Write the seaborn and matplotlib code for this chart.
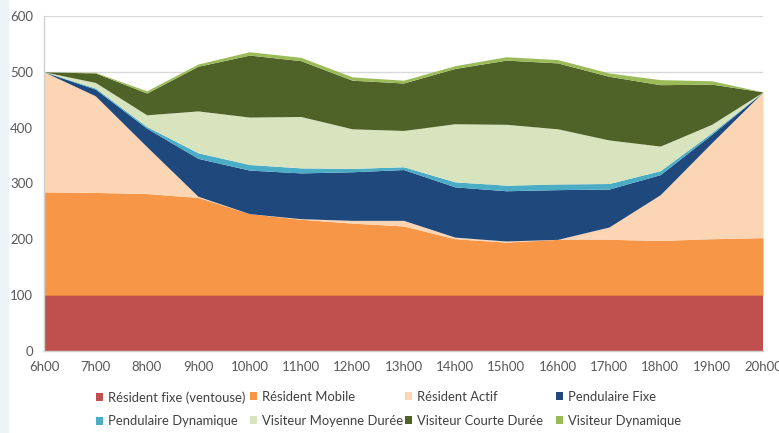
import matplotlib
matplotlib.use("Agg")
import matplotlib.pyplot as plt
from matplotlib.patches import Patch, Rectangle
import pandas as pd
import seaborn as sns

# ---- data ----
hours = [6, 7, 8, 9, 10, 11, 12, 13, 14, 15, 16, 17, 18, 19, 20]
hour_labels = ["6h00", "7h00", "8h00", "9h00", "10h00", "11h00", "12h00", "13h00",
               "14h00", "15h00", "16h00", "17h00", "18h00", "19h00", "20h00"]
y_ticks = [0, 100, 200, 300, 400, 500, 600]

series_names = ["Résident fixe (ventouse)", "Résident Mobile", "Résident Actif",
                "Pendulaire Fixe", "Pendulaire Dynamique", "Visiteur Moyenne Durée",
                "Visiteur Courte Durée", "Visiteur Dynamique"]

resident_fixe = [100, 100, 100, 100, 100, 100, 100, 100, 100, 100, 100, 100, 100, 100, 100]
resident_mobile = [185, 184, 182, 175, 146, 136, 129, 124, 101, 95, 100, 100, 98, 101, 103]
resident_actif = [215, 173, 84, 2, 0, 1, 5, 10, 3, 2, 0, 22, 82, 172, 261]
pendulaire_fixe = [0, 12, 33, 68, 78, 82, 87, 91, 90, 90, 89, 68, 36, 15, 0]
pendulaire_dyn = [0, 2, 3, 10, 10, 9, 6, 5, 9, 10, 10, 10, 7, 3, 0]
visiteur_moyenne = [0, 10, 21, 75, 85, 92, 71, 65, 104, 109, 99, 78, 44, 15, 0]
visiteur_courte = [0, 17, 39, 80, 111, 100, 87, 85, 99, 115, 118, 114, 110, 72, 0]
visiteur_dyn = [0, 1, 4, 4, 6, 6, 6, 5, 5, 6, 6, 6, 9, 6, 0]

series_values = [resident_fixe, resident_mobile, resident_actif, pendulaire_fixe,
                 pendulaire_dyn, visiteur_moyenne, visiteur_courte, visiteur_dyn]

colors = ["#C0504D", "#F79646", "#FCD5B5", "#1F497D",
          "#4BACC6", "#D7E4BD", "#4F6228", "#9BBB59"]

# ---- long table for seaborn ----
rows = []
for name, vals in zip(series_names, series_values):
    for h, v in zip(hours, vals):
        rows.append({"hour": h, "value": v, "series": name})
df = pd.DataFrame(rows)

sns.set_theme(style="white")
plt.rcParams["font.family"] = ["Lato", "DejaVu Sans"]

W, H = 779, 433
fig = plt.figure(figsize=(W / 100, H / 100), dpi=100)
fig.patch.set_facecolor("white")
fig.patches.append(Rectangle((0, 0), 8 / W, 1, transform=fig.transFigure,
                             color="#EEF3F8", zorder=-5))

ax = fig.add_axes([44 / W, 1 - 351 / H, (763 - 44) / W, (351 - 16) / H])

palette = dict(zip(series_names, colors))
# seaborn stacks the last hue level at the bottom
hue_order = series_names[::-1]
sns.histplot(data=df, x="hour", weights="value", hue="series", hue_order=hue_order,
             palette=palette, multiple="stack", element="poly", discrete=True,
             alpha=1, linewidth=0, legend=False, ax=ax)

ax.set_xlim(hours[0], hours[-1])
ax.set_ylim(0, 600)
ax.set_xticks(hours)
ax.set_xticklabels(hour_labels)
ax.set_yticks(y_ticks)
ax.set_xlabel("")
ax.set_ylabel("")
ax.tick_params(axis="both", length=0, labelsize=9.5, colors="#595959")
ax.tick_params(axis="x", pad=7)
ax.tick_params(axis="y", pad=8)
ax.grid(axis="y", color="#D9D9D9", linewidth=1)
ax.set_axisbelow(True)
for s in ["top", "right"]:
    ax.spines[s].set_visible(False)
for s in ["left", "bottom"]:
    ax.spines[s].set_color("#D0D0D0")
    ax.spines[s].set_linewidth(1)

# ---- legend: 4 columns x 2 rows ----
handles = [Patch(facecolor=c, edgecolor="none", label=n) for n, c in zip(series_names, colors)]
col_x = [96, 250, 405, 556]
for c in range(4):
    leg = fig.legend(handles=[handles[c], handles[c + 4]], loc="upper left",
                     bbox_to_anchor=(col_x[c] / W, 1 - 391 / H),
                     bbox_transform=fig.transFigure, frameon=False,
                     fontsize=9.4, handlelength=0.55, handleheight=0.55,
                     handletextpad=0.35, labelspacing=0.9, borderpad=0,
                     borderaxespad=0)
    for t in leg.get_texts():
        t.set_color("#404040")

fig.savefig("out.png", dpi=100)
